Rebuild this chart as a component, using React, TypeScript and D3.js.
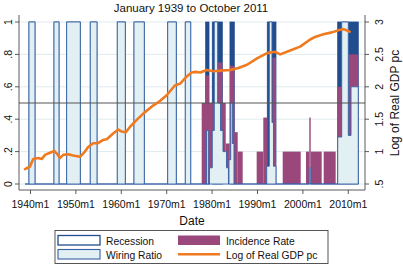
import React from "react";
import * as d3 from "d3";

// ---- data ----
const seriesStart = 1938.8;
const seriesEnd = 2012.2;

const recessionStart = [1939.67, 1945.18, 1947.97, 1953.17, 1959.12, 1962.8, 1970.22, 1974.1, 1978.59, 1980.04, 1983.94, 1992.16, 2007.67];
const recessionEnd = [1940.99, 1946.28, 1950.97, 1954.65, 1960.88, 1965.07, 1972.11, 1975.29, 1979.32, 1982.25, 1984.89, 1994.07, 2012.2];

const wiringStart = [1939.67, 1945.18, 1947.97, 1953.17, 1959.12, 1962.8, 1970.22, 1974.1, 1978.77, 1979.43, 1980.04, 1980.48, 1981.23, 1981.85, 1982.4, 1983.17, 1983.72, 1984.1, 1984.45, 1992.03, 1992.6, 1993.19, 1993.52, 2001.41, 2007.67, 2008.55, 2010.0, 2010.6];
const wiringEnd = [1940.99, 1946.28, 1950.97, 1954.65, 1960.88, 1965.07, 1972.11, 1975.29, 1979.16, 1980.04, 1980.48, 1981.23, 1981.85, 1982.4, 1983.17, 1983.61, 1984.1, 1984.45, 1984.82, 1992.6, 1993.19, 1993.52, 1994.07, 2001.72, 2008.55, 2010.0, 2010.6, 2012.2];
const wiringValue = [1, 1, 1, 1, 1, 1, 1, 1, 0.33, 0.1, 0.33, 1, 0.5, 0.33, 0.2, 0.1, 0.15, 0.5, 0.25, 0.11, 1, 0.38, 0.11, 0.1, 0.29, 1, 0.3, 0.6];

const incidenceStart = [1977.71, 1978.59, 1979.32, 1980.04, 1981.23, 1982.25, 1983.0, 1983.94, 1984.89, 1985.64, 1989.82, 1991.28, 1993.26, 1995.55, 2000.68, 2001.41, 2001.72, 2004.58, 2007.67, 2010.0];
const incidenceEnd = [1978.59, 1979.32, 1980.04, 1980.48, 1982.25, 1983.0, 1983.88, 1984.89, 1985.64, 1986.74, 1991.28, 1992.16, 1994.07, 1999.52, 2001.41, 2001.72, 2004.14, 2007.22, 2008.55, 2012.2];
const incidenceValue = [0.5, 0.67, 0.5, 0.5, 0.75, 0.5, 0.25, 0.73, 0.32, 0.2, 0.2, 0.41, 0.78, 0.2, 0.2, 0.41, 0.2, 0.2, 0.6, 0.8];

const gdpYear = [1938.8, 1939.9, 1940.6, 1941.7, 1942.5, 1943.2, 1943.9, 1945.25, 1945.8, 1946.5, 1947.2, 1948.3, 1949.4, 1950.9, 1952.0, 1952.7, 1953.8, 1954.9, 1956.0, 1956.8, 1958.2, 1959.35, 1960.1, 1961.0, 1961.9, 1963.4, 1964.9, 1967.0, 1968.5, 1970.0, 1971.8, 1973.0, 1974.4, 1975.5, 1976.3, 1977.4, 1978.8, 1980.3, 1981.8, 1984.0, 1985.8, 1987.7, 1989.9, 1992.1, 1993.9, 1995.0, 1997.2, 1999.4, 2001.6, 2002.7, 2004.5, 2006.4, 2008.2, 2009.0, 2009.7, 2010.3];
const gdpValue = [0.73, 0.77, 0.886, 0.9, 0.886, 0.95, 0.97, 1.01, 0.97, 0.9, 0.95, 0.96, 0.94, 0.92, 1.0, 1.07, 1.13, 1.13, 1.18, 1.19, 1.28, 1.34, 1.31, 1.3, 1.38, 1.49, 1.59, 1.71, 1.78, 1.87, 2.02, 2.05, 2.16, 2.22, 2.23, 2.22, 2.26, 2.24, 2.25, 2.26, 2.29, 2.34, 2.44, 2.52, 2.54, 2.5, 2.56, 2.62, 2.73, 2.77, 2.81, 2.84, 2.88, 2.89, 2.87, 2.85];

const xTickYears = [1940, 1950, 1960, 1970, 1980, 1990, 2000, 2010];
const xTickLabels = ["1940m1", "1950m1", "1960m1", "1970m1", "1980m1", "1990m1", "2000m1", "2010m1"];
const leftTicks = [0, 0.2, 0.4, 0.6, 0.8, 1];
const leftTickLabels = ["0", ".2", ".4", ".6", ".8", "1"];
const rightTicks = [0.5, 1, 1.5, 2, 2.5, 3];
const rightTickLabels = [".5", "1", "1.5", "2", "2.5", "3"];
const refLineValue = 0.5;

const titleText = "January 1939 to October 2011";
const xTitle = "Date";
const rightTitle = "Log of Real GDP pc";
const legendLabels = ["Recession", "Wiring Ratio", "Incidence Rate", "Log of Real GDP pc"];

// ---- styles ----
const FONT = "'Liberation Sans', Arial, Helvetica, sans-serif";
const C_REC = "#214c8e";
const C_WIRE_FILL = "#e3f0f3";
const C_WIRE_LINE = "#3562a6";
const C_INC = "#9a487b";
const C_GDP = "#ef7a1f";
const C_GRID = "#dbe9ec";

export default function App() {
  const W = 403, H = 265;
  const L = 19, R = 365, T = 22, B = 184, AXB = 190, AXT = 15;

  const x = d3.scaleLinear().domain([1937.47, 2013.68]).range([L, R]);
  const yL = d3.scaleLinear().domain([0, 1]).range([B, T]);
  const yR = d3.scaleLinear().domain([0.5, 3]).range([B, T]);

  // wiring ratio as one continuous step area
  const pts: [number, number][] = [[seriesStart, 0]];
  let prevEnd = seriesStart;
  wiringStart.forEach((s, i) => {
    const e = wiringEnd[i];
    const v = wiringValue[i];
    if (Math.abs(s - prevEnd) > 0.005) {
      pts.push([prevEnd, 0]);
      pts.push([s, 0]);
    }
    pts.push([s, v]);
    pts.push([e, v]);
    prevEnd = e;
  });
  pts.push([prevEnd, 0]);
  pts.push([seriesEnd, 0]);
  const wiringArea = d3
    .area<[number, number]>()
    .x((d) => x(d[0]))
    .y0(yL(0))
    .y1((d) => yL(d[1]))(pts) as string;

  const gdpLine = d3
    .line<number>()
    .x((_, i) => x(gdpYear[i]))
    .y((d) => yR(d))
    .curve(d3.curveLinear)(gdpValue) as string;

  return (
    <svg width={W} height={H} style={{ display: "block", position: "absolute", left: 0, top: 0, background: "#fff" }} fontFamily={FONT}>
      <rect x={0} y={0} width={W} height={H} fill="#fff" />
      {/* title */}
      <text x={191} y={11.5} fontSize={11.5} textAnchor="middle" fill="#111">{titleText}</text>

      {/* grid */}
      {leftTicks.map((t) => (
        <line key={"g" + t} x1={L} x2={R} y1={yL(t)} y2={yL(t)} stroke={C_GRID} strokeWidth={0.9} />
      ))}

      {/* recession bars */}
      {recessionStart.map((s, i) => (
        <rect key={"r" + i} x={x(s)} y={yL(1)} width={x(recessionEnd[i]) - x(s)} height={yL(0) - yL(1)}
          fill={C_REC} stroke={C_REC} strokeWidth={0.8} />
      ))}

      {/* incidence rate */}
      {incidenceStart.map((s, i) => (
        <rect key={"i" + i} x={x(s)} y={yL(incidenceValue[i])} width={x(incidenceEnd[i]) - x(s)}
          height={yL(0) - yL(incidenceValue[i])} fill={C_INC} />
      ))}

      {/* wiring ratio */}
      <path d={wiringArea} fill={C_WIRE_FILL} stroke={C_WIRE_LINE} strokeWidth={0.9} strokeLinejoin="miter" />

      {/* reference line */}
      <line x1={L} x2={R} y1={yL(refLineValue)} y2={yL(refLineValue)} stroke="#555" strokeWidth={1} />

      {/* GDP line */}
      <path d={gdpLine} fill="none" stroke={C_GDP} strokeWidth={2.6} strokeLinejoin="round" strokeLinecap="round" />

      {/* axes */}
      <line x1={L} x2={L} y1={AXT} y2={AXB} stroke="#333" strokeWidth={0.8} />
      <line x1={R} x2={R} y1={AXT} y2={AXB} stroke="#333" strokeWidth={0.8} />
      <line x1={L} x2={R} y1={AXB} y2={AXB} stroke="#333" strokeWidth={0.8} />
      {leftTicks.map((t, i) => (
        <g key={"lt" + t}>
          <line x1={L - 4} x2={L} y1={yL(t)} y2={yL(t)} stroke="#333" strokeWidth={0.8} />
          <text transform={`translate(11.5,${yL(t)}) rotate(-90)`} fontSize={10.5} textAnchor="middle" fill="#111">{leftTickLabels[i]}</text>
        </g>
      ))}
      {rightTicks.map((t, i) => (
        <g key={"rt" + t}>
          <line x1={R} x2={R + 4} y1={yR(t)} y2={yR(t)} stroke="#333" strokeWidth={0.8} />
          <text transform={`translate(383,${yR(t)}) rotate(-90)`} fontSize={10.5} textAnchor="middle" fill="#111">{rightTickLabels[i]}</text>
        </g>
      ))}
      {xTickYears.map((t, i) => (
        <g key={"xt" + t}>
          <line x1={x(t)} x2={x(t)} y1={AXB} y2={AXB + 4} stroke="#333" strokeWidth={0.8} />
          <text x={x(t)} y={207.5} fontSize={10.5} textAnchor="middle" fill="#111">{xTickLabels[i]}</text>
        </g>
      ))}
      <text x={(L + R) / 2} y={225} fontSize={12} textAnchor="middle" fill="#111">{xTitle}</text>
      <text transform={`translate(398.5,${(T + B) / 2}) rotate(-90)`} fontSize={12} textAnchor="middle" fill="#111">{rightTitle}</text>

      {/* legend */}
      <rect x={55} y={230.5} width={273} height={33} fill="#fff" stroke="#444" strokeWidth={0.9} />
      <rect x={58} y={235.5} width={42} height={9.5} fill="#fff" stroke={C_REC} strokeWidth={1.3} />
      <text x={106} y={244.5} fontSize={10.3} fill="#111">{legendLabels[0]}</text>
      <rect x={58} y={249.5} width={42} height={9.5} fill={C_WIRE_FILL} stroke={C_WIRE_LINE} strokeWidth={1.1} />
      <text x={106} y={258.5} fontSize={10.3} fill="#111">{legendLabels[1]}</text>
      <rect x={178} y={235.5} width={42} height={9.5} fill={C_INC} />
      <text x={226} y={244.5} fontSize={10.3} fill="#111">{legendLabels[2]}</text>
      <line x1={178} x2={220} y1={254.3} y2={254.3} stroke={C_GDP} strokeWidth={2.6} />
      <text x={226} y={258.5} fontSize={10.3} fill="#111">{legendLabels[3]}</text>
    </svg>
  );
}
